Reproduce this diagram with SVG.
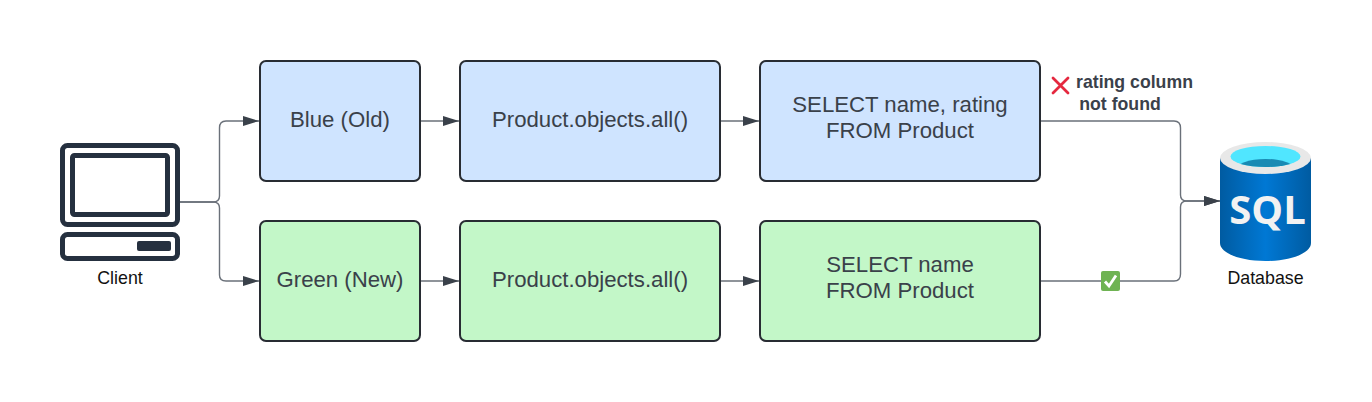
<svg xmlns="http://www.w3.org/2000/svg" width="1372" height="402" viewBox="0 0 1372 402">
<style>
text{font-family:"Liberation Sans",Arial,sans-serif;text-anchor:middle}
.box{stroke:#282c33;stroke-width:2}
.blue{fill:#cfe4ff}.green{fill:#c3f7c8}
.t{font-size:22.2px;fill:#3a414a}
.cap{font-size:17.800px;fill:#111}
.note{font-size:17.700px;font-weight:bold;fill:#3a414a}
.c{fill:none;stroke:#6a7079;stroke-width:1.4}
.ic{fill:none;stroke:#25303f;stroke-width:5}
</style>
<defs>
<marker id="a" markerUnits="userSpaceOnUse" markerWidth="17" markerHeight="12" refX="16" refY="6" orient="auto"><path d="M0 1L16 6L0 11Z" fill="#3a414a"/></marker>
<linearGradient id="cyl" x1="0" x2="1" y1="0" y2="0"><stop offset="0" stop-color="#005ba1"/><stop offset=".5" stop-color="#0078d4"/><stop offset="1" stop-color="#005ba1"/></linearGradient>
<clipPath id="well"><ellipse cx="1265.5" cy="156.5" rx="35" ry="10.5"/></clipPath>
</defs>
<rect width="1372" height="402" fill="#fff"/>
<g id="connectors">
<path class="c" marker-end="url(#a)" d="M180 202H213Q219.500 202 219.500 196V128Q219.500 121 226 121H259"/>
<path class="c" marker-end="url(#a)" d="M180 202H213Q219.500 202 219.500 208V275Q219.500 281 226 281H259"/>
<path class="c" marker-end="url(#a)" d="M421 121H459"/>
<path class="c" marker-end="url(#a)" d="M421 281H459"/>
<path class="c" marker-end="url(#a)" d="M721 121H759"/>
<path class="c" marker-end="url(#a)" d="M721 281H759"/>
<path class="c" marker-end="url(#a)" d="M1041 121H1174Q1180.500 121 1180.500 128V195Q1180.500 201 1187 201H1220"/>
<path class="c" marker-end="url(#a)" d="M1041 281H1174Q1180.500 281 1180.500 274V207Q1180.500 201 1187 201H1220"/>
</g>
<g id="client">
<rect class="ic" x="62.500" y="145.500" width="115" height="79" rx="5"/>
<rect class="ic" x="72.500" y="155.500" width="95" height="59" rx="2"/>
<rect class="ic" x="62.500" y="234.500" width="115" height="24" rx="5"/>
<rect x="137" y="241" width="34" height="10" rx="2" fill="#25303f"/>
<text class="cap" x="120" y="284">Client</text>
</g>
<g id="blue-old"><rect class="box blue" x="260" y="61" width="160" height="120" rx="6"/><text class="t" x="340" y="127">Blue (Old)</text></g>
<g id="blue-orm"><rect class="box blue" x="460" y="61" width="260" height="120" rx="6"/><text class="t" x="590" y="127">Product.objects.all()</text></g>
<g id="blue-sql"><rect class="box blue" x="760" y="61" width="280" height="120" rx="6"/><text class="t" x="900" y="112">SELECT name, rating</text><text class="t" x="900" y="138">FROM Product</text></g>
<g id="green-new"><rect class="box green" x="260" y="221" width="160" height="120" rx="6"/><text class="t" x="340" y="287">Green (New)</text></g>
<g id="green-orm"><rect class="box green" x="460" y="221" width="260" height="120" rx="6"/><text class="t" x="590" y="287">Product.objects.all()</text></g>
<g id="green-sql"><rect class="box green" x="760" y="221" width="280" height="120" rx="6"/><text class="t" x="900" y="272">SELECT name</text><text class="t" x="900" y="298">FROM Product</text></g>
<g id="error-note">
<path d="M1053 78L1068 93M1068 78L1053 93" stroke="#e5283f" stroke-width="2.800" stroke-linecap="round" fill="none"/>
<text class="note" x="1134.500" y="88">rating column</text>
<text class="note" x="1120" y="110">not found</text>
</g>
<g id="check">
<rect x="1101" y="271" width="19" height="20" rx="2" fill="#6fb353"/>
<path d="M1105 281.500L1109 286L1116 275.500" stroke="#fff" stroke-width="2.800" fill="none"/>
</g>
<g id="database">
<path d="M1220 158V243C1220 253 1240 261 1265.500 261S1311 253 1311 243V158Z" fill="url(#cyl)"/>
<ellipse cx="1265.500" cy="158" rx="45.500" ry="16" fill="#e8e8e8"/>
<ellipse cx="1265.500" cy="156.500" rx="35" ry="10.500" fill="#50e6ff"/>
<ellipse cx="1265.500" cy="170" rx="30" ry="11" fill="#198ab3" clip-path="url(#well)"/>
<text x="1267.500" y="224" font-size="40" font-weight="bold" style="font-family:'Open Sans','Liberation Sans',sans-serif" fill="#f2f2f2">SQL</text>
<text class="cap" x="1265.500" y="284">Database</text>
</g>
</svg>
